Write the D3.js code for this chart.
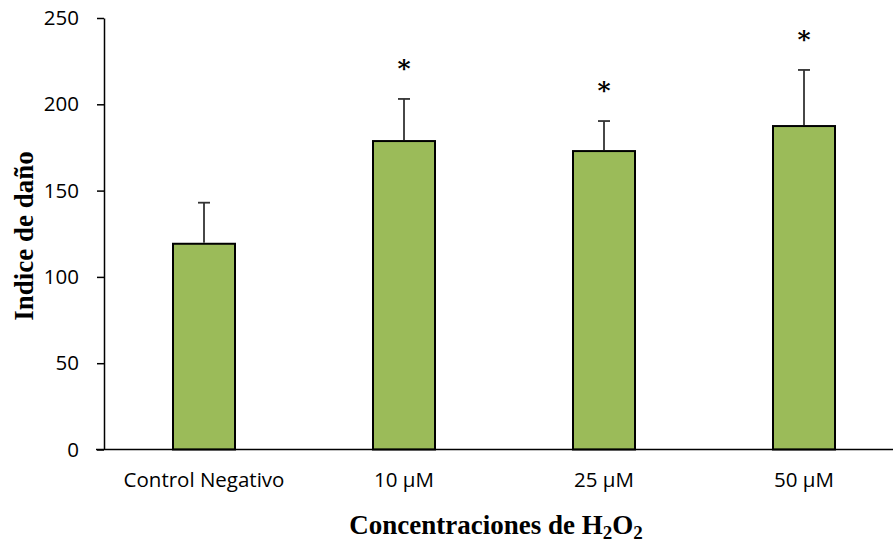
<!DOCTYPE html>
<html>
<head>
<meta charset="utf-8">
<script src="https://cdn.jsdelivr.net/npm/d3@7"></script>
<style>
  body { margin: 0; background: #fff; }
  text { font-family: "Open Sans", "Liberation Sans", sans-serif; }
</style>
</head>
<body>
<div id="chart"></div>
<script>
// data
var categories = ["Control Negativo", "10 µM", "25 µM", "50 µM"];
var values = [119.2, 178.7, 172.9, 187.4];
var errors = [23.8, 24.4, 17.4, 32.5];
var signif = [false, true, true, true];
var yTicks = [0, 50, 100, 150, 200, 250];

var width = 893, height = 542;

var svg = d3.select("#chart")
  .append("svg")
    .attr("width", width)
    .attr("height", height);

// scales: step of 200px, bar about 62px wide
var x = d3.scaleBand()
  .domain(categories)
  .range([104, 904])
  .paddingInner(0.69)
  .paddingOuter(0.345);

var y = d3.scaleLinear()
  .domain([0, 250])
  .range([449.5, 18]);

// y axis
var yAxis = svg.append("g")
  .attr("transform", "translate(104,0)")
  .call(d3.axisLeft(y).tickValues(yTicks).tickSize(7).tickSizeOuter(0).tickPadding(18));
yAxis.select(".domain").attr("stroke", "#000").attr("stroke-width", 1.5);
yAxis.selectAll(".tick line").attr("stroke", "#000").attr("stroke-width", 1.5);
yAxis.selectAll(".tick text")
  .attr("fill", "#000")
  .style("font-size", "20.5px")
  .style("font-family", "'Open Sans', sans-serif");

// bars
svg.selectAll("rect.bar")
  .data(values)
  .enter()
  .append("rect")
    .attr("class", "bar")
    .attr("x", function(d, i) { return x(categories[i]); })
    .attr("y", function(d) { return y(d); })
    .attr("width", x.bandwidth())
    .attr("height", function(d) { return y(0) - y(d); })
    .attr("fill", "#9BBB59")
    .attr("stroke", "#000")
    .attr("stroke-width", 2);

// error bars (upper only)
var err = svg.selectAll("g.err")
  .data(values)
  .enter()
  .append("g")
    .attr("class", "err")
    .attr("transform", function(d, i) { return "translate(" + (x(categories[i]) + x.bandwidth() / 2) + ",0)"; });

err.append("line")
  .attr("x1", 0).attr("x2", 0)
  .attr("y1", function(d) { return y(d) - 1; })
  .attr("y2", function(d, i) { return y(d + errors[i]); })
  .attr("stroke", "#333")
  .attr("stroke-width", 1.8);

err.append("line")
  .attr("x1", -6).attr("x2", 6)
  .attr("y1", function(d, i) { return y(d + errors[i]); })
  .attr("y2", function(d, i) { return y(d + errors[i]); })
  .attr("stroke", "#333")
  .attr("stroke-width", 1.8);

// asterisks
err.filter(function(d, i) { return signif[i]; })
  .append("text")
    .attr("x", 0)
    .attr("y", function(d) { return y(d + errors[values.indexOf(d)]) - 22; })
    .attr("text-anchor", "middle")
    .style("font-family", "'DejaVu Serif', serif")
    .style("font-weight", "bold")
    .style("font-size", "25px")
    .text("*");

// x axis line
svg.append("line")
  .attr("x1", 96).attr("x2", width)
  .attr("y1", y(0)).attr("y2", y(0))
  .attr("stroke", "#000")
  .attr("stroke-width", 1.5);

// category labels
svg.selectAll("text.cat")
  .data(categories)
  .enter()
  .append("text")
    .attr("class", "cat")
    .attr("x", function(d) { return x(d) + x.bandwidth() / 2; })
    .attr("y", 487)
    .attr("text-anchor", "middle")
    .style("font-size", "20.5px")
    .text(function(d) { return d; });

// axis titles
var xt = svg.append("text")
  .attr("x", 496)
  .attr("y", 534)
  .attr("text-anchor", "middle")
  .style("font-family", "'Liberation Serif', serif")
  .style("font-weight", "bold")
  .style("font-size", "27px");
xt.append("tspan").text("Concentraciones de H");
xt.append("tspan").attr("dy", 5).style("font-size", "19px").text("2");
xt.append("tspan").attr("dy", -5).text("O");
xt.append("tspan").attr("dy", 5).style("font-size", "19px").text("2");

svg.append("text")
  .attr("transform", "translate(33,236)rotate(-90)")
  .attr("text-anchor", "middle")
  .style("font-family", "'Liberation Serif', serif")
  .style("font-weight", "bold")
  .style("font-size", "27px")
  .text("Indice de daño");
</script>
</body>
</html>
